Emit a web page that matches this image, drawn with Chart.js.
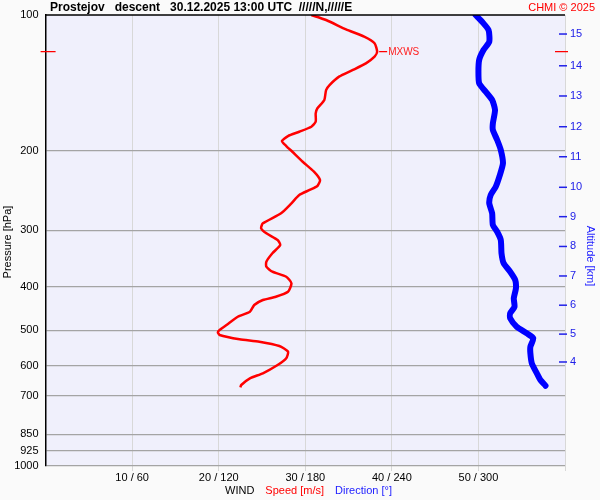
<!DOCTYPE html>
<html>
<head>
<meta charset="utf-8">
<script src="https://cdn.jsdelivr.net/npm/chart.js@4/dist/chart.umd.min.js"></script>
<style>
  body { margin: 0; background: #fafafa; }
  #wrap { width: 600px; height: 500px; }
</style>
</head>
<body>
<div id="wrap"><canvas id="windChart" width="600" height="500"></canvas></div>
<script>
const titleText = "Prostejov   descent   30.12.2025 13:00 UTC  /////N,/////E";

const pressureTicks = [100, 200, 300, 400, 500, 600, 700, 850, 925, 1000];
const speedTicks = [10, 20, 30, 40, 50];
const dirTicks = [60, 120, 180, 240, 300];
const altitudeKm = [15, 14, 13, 12, 11, 10, 9, 8, 7, 6, 5, 4];
const altitudePressure = [110.2, 129.6, 151.2, 176.9, 206.2, 241, 280, 326, 379, 440, 510, 588];

// wind speed profile [m/s] against pressure [hPa]
const speedPressure = [100, 102.6, 107.6, 111.7, 115.5, 120.6, 123.7, 128, 132.4, 137, 143, 146.7,
  154.3, 161, 165.2, 172.4, 176.9, 181.5, 185.5, 190.3, 195.2, 201, 211.5, 222.6, 232.2, 239.4,
  244.3, 250.7, 261.5, 275.2, 289.7, 297.2, 304.8, 315.4, 323.6, 337.6, 352.4, 361.5, 370.9,
  380.5, 393.5, 410.8, 421.4, 428.5, 439.5, 454.9, 466.7, 486.8, 499.3, 505, 512.3, 523.7,
  530.1, 541.9, 557.9, 577, 597.2, 623, 639.1, 661.3, 669.2];
const speedValues = [30.7, 32.4, 34.7, 36.8, 38.0, 38.3, 38.0, 37.0, 35.5, 33.9, 32.8, 32.4,
  32.2, 31.4, 31.2, 31.2, 30.7, 29.3, 28.0, 27.3, 27.8, 28.5, 29.7, 31.0, 31.7, 31.4,
  30.5, 29.3, 28.4, 27.2, 25.1, 24.9, 25.5, 26.8, 27.1, 26.2, 25.5, 25.5, 26.2,
  27.8, 28.4, 28.0, 26.6, 25.1, 24.1, 23.6, 22.2, 20.9, 20.1, 19.9, 20.1, 22.4,
  24.7, 27.0, 28.0, 27.8, 26.8, 25.1, 23.6, 22.6, 22.5];

// wind direction profile [deg] against pressure [hPa]
const dirPressure = [100, 103.5, 108, 114.6, 119.6, 125.8, 133.6, 141.7, 147.9, 154.3, 162.4,
  173.9, 179.9, 189.3, 199.2, 213.2, 228.3, 240.3, 250.7, 261.5, 275.2, 292.2, 302.4, 315.4,
  337.6, 355.2, 370.9, 386.9, 403.7, 424.9, 443.4, 458.6, 470.4, 491.1, 507.9, 521, 543.9,
  562.5, 592, 623, 644.7, 663.7];
const dirValues = [298, 302.5, 307, 307.5, 303.5, 300.5, 300, 300.5, 305, 309.5, 311.5,
  310, 310, 313, 315.5, 317, 314.5, 312, 308.5, 307.5, 309.5, 310, 313, 315.5,
  316, 317.5, 322, 325.5, 326, 324.5, 325, 322, 322, 326.5, 333.5, 338, 336,
  336, 337, 340.5, 343, 346.5];

Chart.defaults.font.family = "'Liberation Sans', Arial, sans-serif";
Chart.defaults.font.size = 11;
Chart.defaults.color = "#000";

const plotDecor = {
  id: "plotDecor",
  beforeDraw(chart) {
    const { ctx, chartArea } = chart;
    ctx.save();
    ctx.fillStyle = "#f0f0fc";
    ctx.fillRect(chartArea.left, chartArea.top, chartArea.right - chartArea.left, chartArea.bottom - chartArea.top);
    ctx.restore();
  },
  afterDraw(chart) {
    const { ctx, chartArea } = chart;
    const xs = chart.scales.x;
    const ys = chart.scales.y;
    const y2 = chart.scales.y2;
    ctx.save();

    // top border
    ctx.strokeStyle = "#000";
    ctx.lineWidth = 1.5;
    ctx.beginPath();
    ctx.moveTo(chartArea.left, chartArea.top);
    ctx.lineTo(chartArea.right, chartArea.top);
    ctx.stroke();

    // altitude tick marks
    ctx.strokeStyle = "#2020e8";
    ctx.lineWidth = 1.5;
    altitudePressure.forEach(p => {
      const py = y2.getPixelForValue(p);
      ctx.beginPath();
      ctx.moveTo(chartArea.right - 6, py);
      ctx.lineTo(chartArea.right + 2, py);
      ctx.stroke();
    });

    // max wind speed marker
    const maxIndex = speedValues.indexOf(Math.max(...speedValues));
    const mx = xs.getPixelForValue(speedValues[maxIndex]);
    const my = ys.getPixelForValue(speedPressure[maxIndex]);
    ctx.strokeStyle = "#ff0000";
    ctx.lineWidth = 1.2;
    ctx.beginPath();
    ctx.moveTo(chartArea.left - 5, my); ctx.lineTo(chartArea.left + 10, my);
    ctx.moveTo(chartArea.right - 10, my); ctx.lineTo(chartArea.right + 3, my);
    ctx.moveTo(mx + 2, my); ctx.lineTo(mx + 10, my);
    ctx.stroke();
    ctx.fillStyle = "#ff2020";
    ctx.font = "10px 'Liberation Sans', Arial, sans-serif";
    ctx.textBaseline = "middle";
    ctx.textAlign = "left";
    ctx.fillText("MXWS", mx + 11, my + 1);

    // title
    ctx.fillStyle = "#000";
    ctx.font = "bold 12px 'Liberation Sans', Arial, sans-serif";
    ctx.fillText(titleText, 50, 8);
    ctx.fillStyle = "#ff0000";
    ctx.font = "11px 'Liberation Sans', Arial, sans-serif";
    ctx.textAlign = "right";
    ctx.fillText("CHMI \u00a9 2025", 595, 8);

    // bottom legend
    ctx.textAlign = "left";
    ctx.font = "11px 'Liberation Sans', Arial, sans-serif";
    let lx = 225;
    [["WIND", "#000"], ["Speed [m/s]", "#ff0000"], ["Direction [\u00b0]", "#2020ff"]].forEach(([t, c]) => {
      ctx.fillStyle = c;
      ctx.fillText(t, lx, 491);
      lx += ctx.measureText(t).width + 11;
    });

    // axis titles
    ctx.save();
    ctx.translate(8, 242);
    ctx.rotate(-Math.PI / 2);
    ctx.textAlign = "center";
    ctx.fillStyle = "#000";
    ctx.fillText("Pressure [hPa]", 0, 0);
    ctx.restore();

    ctx.save();
    ctx.translate(590, 256);
    ctx.rotate(Math.PI / 2);
    ctx.textAlign = "center";
    ctx.fillStyle = "#2020ff";
    ctx.fillText("Altitude [km]", 0, 0);
    ctx.restore();

    ctx.restore();
  }
};

const ctx = document.getElementById("windChart").getContext("2d");

new Chart(ctx, {
  type: "scatter",
  data: {
    datasets: [
      {
        label: "Direction",
        xAxisID: "x2",
        data: dirPressure.map((p, i) => ({ x: dirValues[i], y: p })),
        showLine: true,
        borderColor: "#0000ff",
        borderWidth: 6,
        pointRadius: 0,
        tension: 0.2,
        borderCapStyle: "round",
        borderJoinStyle: "round"
      },
      {
        label: "Speed",
        xAxisID: "x",
        data: speedPressure.map((p, i) => ({ x: speedValues[i], y: p })),
        showLine: true,
        borderColor: "#ff0000",
        borderWidth: 2.5,
        pointRadius: 0,
        tension: 0.2
      }
    ]
  },
  options: {
    responsive: false,
    animation: false,
    layout: { padding: { top: 15, left: 0, right: 0, bottom: 0 } },
    plugins: { legend: { display: false }, tooltip: { enabled: false } },
    scales: {
      x: {
        type: "linear",
        min: 0,
        max: 60,
        afterBuildTicks: s => { s.ticks = [0, ...speedTicks, 60].map(v => ({ value: v })); },
        afterFit: s => { s.height = 34; },
        ticks: {
          padding: 0,
          maxRotation: 0,
          autoSkip: false,
          callback: v => {
            const i = speedTicks.indexOf(v);
            return i < 0 ? "" : speedTicks[i] + " / " + dirTicks[i];
          }
        },
        grid: {
          color: c => (c.tick && c.tick.value === 0 ? "rgba(0,0,0,0)" : "#d8d8d8"),
          lineWidth: 1,
          tickLength: 5
        },
        border: { display: false }
      },
      x2: {
        type: "linear",
        min: 0,
        max: 360,
        display: false
      },
      y: {
        type: "logarithmic",
        reverse: true,
        min: 100,
        max: 1000,
        afterBuildTicks: s => { s.ticks = pressureTicks.map(v => ({ value: v })); },
        afterFit: s => { s.width = 45.6; },
        ticks: {
          padding: 7,
          autoSkip: false,
          callback: v => String(v)
        },
        grid: {
          color: c => (c.tick && c.tick.value === 100 ? "rgba(0,0,0,0)" : "#a4a4a4"),
          lineWidth: 1.3,
          drawTicks: false
        },
        border: { display: true, color: "#000", width: 1.5 }
      },
      y2: {
        type: "logarithmic",
        position: "right",
        reverse: true,
        min: 100,
        max: 1000,
        afterBuildTicks: s => { s.ticks = altitudePressure.map(v => ({ value: v })); },
        afterFit: s => { s.width = 35; },
        ticks: {
          padding: 5,
          autoSkip: false,
          color: "#2020e8",
          callback: v => {
            const i = altitudePressure.indexOf(v);
            return i < 0 ? "" : String(altitudeKm[i]);
          }
        },
        grid: { drawOnChartArea: false, drawTicks: false },
        border: { display: false }
      }
    }
  },
  plugins: [plotDecor]
});
</script>
</body>
</html>
